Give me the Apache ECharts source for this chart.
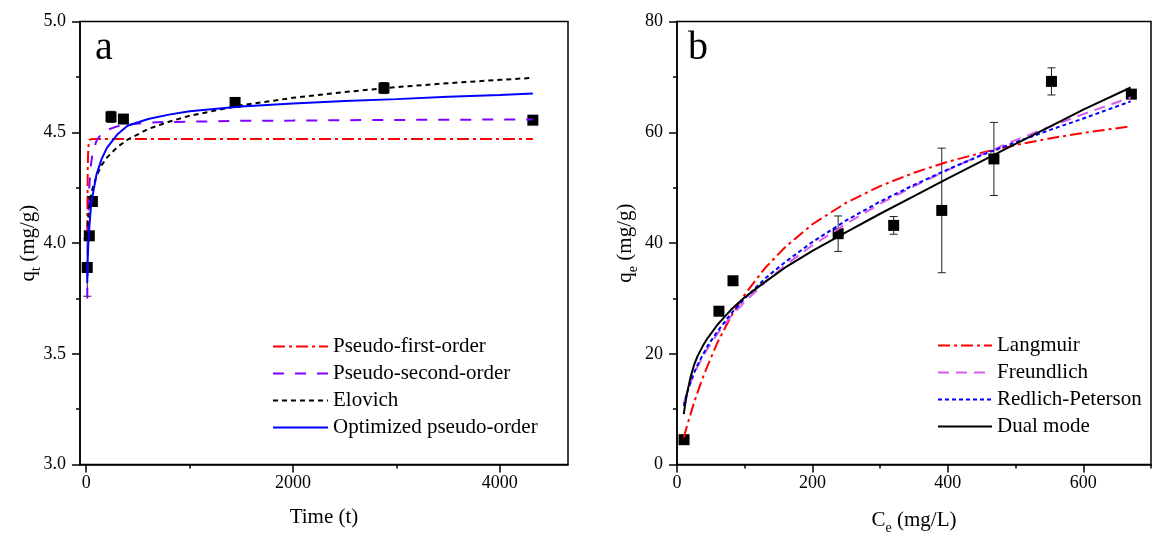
<!DOCTYPE html>
<html>
<head>
<meta charset="utf-8">
<script src="https://cdn.jsdelivr.net/npm/echarts@6/dist/echarts.min.js"></script>
<style>html,body{margin:0;padding:0;background:#fff}#c{width:1158px;height:534px}</style>
</head>
<body>
<div id="c"></div>
<script>
// ---------- Panel a : kinetics ----------
const times = [10, 30, 60, 240, 360, 1440, 2880, 4320];
const qt    = [3.89, 4.033, 4.188, 4.57, 4.56, 4.635, 4.70, 4.555];
const qtErr = [0.13, 0.01, 0.02, 0.025, 0.01, 0.012, 0.025, 0.008];
const tFit  = [10, 15, 20, 30, 45, 60, 100, 150, 200, 300, 400, 600, 800, 1000, 1500, 2000, 2500, 3000, 3500, 4000, 4320];
const pfo   = [4.05, 4.34, 4.43, 4.466, 4.47, 4.47, 4.47, 4.47, 4.47, 4.47, 4.47, 4.47, 4.47, 4.47, 4.47, 4.47, 4.47, 4.47, 4.47, 4.47, 4.47];
const pso   = [3.75, 3.986, 4.115, 4.253, 4.351, 4.401, 4.463, 4.495, 4.511, 4.527, 4.535, 4.544, 4.547, 4.548, 4.552, 4.553, 4.555, 4.556, 4.557, 4.558, 4.558];
const elov  = [4.034, 4.081, 4.115, 4.163, 4.210, 4.244, 4.304, 4.352, 4.386, 4.433, 4.467, 4.515, 4.548, 4.575, 4.622, 4.656, 4.682, 4.704, 4.722, 4.737, 4.746];
const opt   = [3.82, 3.93, 3.99, 4.07, 4.16, 4.21, 4.31, 4.38, 4.43, 4.49, 4.53, 4.56, 4.58, 4.595, 4.617, 4.63, 4.641, 4.65, 4.661, 4.669, 4.675];
const aXTicks = [0, 2000, 4000];
const aXMinor = [1000, 3000];
const aNames = ['Pseudo-first-order', 'Pseudo-second-order', 'Elovich', 'Optimized pseudo-order'];

// ---------- Panel b : isotherms ----------
const ce    = [10.4, 61.9, 82.7, 238, 320, 391, 468, 553, 671];
const qe    = [4.5, 27.7, 33.2, 41.7, 43.2, 45.9, 55.2, 69.2, 66.9];
const qeErr = [0.3, 0.3, 0.3, 3.2, 1.6, 11.25, 6.6, 2.45, 0.4];
const cFit  = [10, 12, 15, 20, 25, 30, 38, 45, 60, 80, 100, 130, 160, 200, 250, 300, 350, 400, 450, 500, 550, 600, 670];
const lang  = [4.9, 5.8, 7.1, 9.1, 11.1, 12.9, 15.7, 17.8, 22.1, 26.8, 30.7, 35.5, 39.3, 43.4, 47.3, 50.3, 52.7, 54.7, 56.3, 57.7, 58.9, 59.9, 61.1];
const freu  = [11.0, 11.9, 13.1, 14.8, 16.3, 17.6, 19.5, 20.9, 23.7, 26.8, 29.4, 32.9, 36.0, 39.6, 43.5, 47.1, 50.3, 53.2, 56.0, 58.6, 61.0, 63.3, 66.3];
const rp    = [10.6, 11.6, 13.0, 14.9, 16.5, 17.9, 19.8, 21.4, 24.1, 27.3, 30.0, 33.6, 36.6, 40.2, 44.1, 47.5, 50.5, 53.3, 55.9, 58.2, 60.4, 62.5, 65.6];
const dual  = [9.1, 10.8, 13.0, 15.8, 17.9, 19.5, 21.4, 22.8, 25.3, 28.0, 30.2, 33.0, 35.6, 38.6, 42.0, 45.3, 48.5, 51.7, 54.8, 57.9, 61.0, 64.1, 68.1];
const bXTicks = [0, 200, 400, 600];
const bXMinor = [100, 300, 500, 700];
const bNames = ['Langmuir', 'Freundlich', 'Redlich-Peterson', 'Dual mode'];

const FONT = 'Liberation Serif';
const BLACK = '#000';

function zip(xs, ys) { return xs.map((x, i) => [x, ys[i]]); }
function errData(xs, ys, es) { return xs.map((x, i) => [x, ys[i], es[i]]); }

function errRender(params, api) {
  const x = api.value(0), y = api.value(1), e = api.value(2);
  const t = api.coord([x, y + e]), b = api.coord([x, y - e]);
  const hw = 4;
  const st = { stroke: '#222', lineWidth: 1 };
  return { type: 'group', children: [
    { type: 'line', shape: { x1: t[0], y1: t[1], x2: b[0], y2: b[1] }, style: st },
    { type: 'line', shape: { x1: t[0] - hw, y1: t[1], x2: t[0] + hw, y2: t[1] }, style: st },
    { type: 'line', shape: { x1: b[0] - hw, y1: b[1], x2: b[0] + hw, y2: b[1] }, style: st }
  ]};
}

const axisLine = { show: true, onZero: false, lineStyle: { color: BLACK, width: 1.5 } };
const labelStyle = { color: BLACK, fontFamily: FONT, fontSize: 18 };
const nameStyle = { color: BLACK, fontFamily: FONT, fontSize: 21,
  rich: { sub: { fontSize: 14, fontFamily: FONT, color: BLACK, verticalAlign: 'bottom', lineHeight: 16 },
          n: { fontSize: 21, fontFamily: FONT, color: BLACK, lineHeight: 30 } } };

function mainX(grid, min, max, ticks, name, gap) {
  return { gridIndex: grid, type: 'value', min: min, max: max, position: 'bottom',
    axisLine: axisLine, splitLine: { show: false },
    axisTick: { show: true, inside: false, length: 8, customValues: ticks, lineStyle: { color: BLACK, width: 1.5 } },
    axisLabel: { customValues: ticks, margin: 10, formatter: v => String(v), ...labelStyle },
    name: name, nameLocation: 'middle', nameGap: gap, nameMoveOverlap: false, nameTextStyle: nameStyle };
}
function minorX(grid, min, max, ticks) {
  return { gridIndex: grid, type: 'value', min: min, max: max, position: 'bottom',
    axisLine: { show: false, onZero: false }, splitLine: { show: false }, axisLabel: { show: false, customValues: ticks },
    axisTick: { show: true, inside: false, length: 4, customValues: ticks, lineStyle: { color: BLACK, width: 1.5 } } };
}
function mainY(grid, min, max, interval, fmt, name, gap) {
  return { gridIndex: grid, type: 'value', min: min, max: max, interval: interval,
    axisLine: axisLine, splitLine: { show: false },
    axisTick: { show: true, inside: false, length: 8, lineStyle: { color: BLACK, width: 1.5 } },
    minorTick: { show: true, splitNumber: 2, length: 4, lineStyle: { color: BLACK, width: 1.5 } },
    axisLabel: { margin: 14, formatter: fmt, ...labelStyle },
    name: name, nameLocation: 'middle', nameGap: gap, nameMoveOverlap: false, nameRotate: 90, nameTextStyle: nameStyle };
}
function line(name, xi, yi, xs, ys, color, dash) {
  return { name: name, type: 'line', xAxisIndex: xi, yAxisIndex: yi, data: zip(xs, ys),
    symbol: 'none', showSymbol: false, smooth: false, z: 4,
    lineStyle: { color: color, width: 2, type: dash }, itemStyle: { color: color } };
}
const legendBase = { orient: 'vertical', itemHeight: 14, itemGap: 6, selectedMode: false,
  itemStyle: { opacity: 0 }, textStyle: { fontFamily: FONT, fontSize: 21, color: BLACK } };

const chart = echarts.init(document.getElementById('c'), null, { renderer: 'canvas' });
chart.setOption({
  backgroundColor: '#fff',
  animation: false,
  title: [
    { text: 'a', left: 90, top: 23, textStyle: { fontFamily: FONT, fontSize: 40, fontWeight: 'normal', color: BLACK } },
    { text: 'b', left: 683, top: 23, textStyle: { fontFamily: FONT, fontSize: 40, fontWeight: 'normal', color: BLACK } }
  ],
  grid: [
    { left: 80, top: 21.6, width: 488, height: 443, outerBoundsMode: 'none', containLabel: false,
      show: true, borderColor: BLACK, borderWidth: 1.5, backgroundColor: 'transparent' },
    { left: 677, top: 21.6, width: 474, height: 443, outerBoundsMode: 'none', containLabel: false,
      show: true, borderColor: BLACK, borderWidth: 1.5, backgroundColor: 'transparent' }
  ],
  xAxis: [
    mainX(0, -60, 4660, aXTicks, 'Time (t)', 42),
    minorX(0, -60, 4660, aXMinor),
    mainX(1, 0, 700, bXTicks, '{n|C}{sub|e}{n| (mg/L)}', 41),
    minorX(1, 0, 700, bXMinor)
  ],
  yAxis: [
    mainY(0, 3, 5, 0.5, v => v.toFixed(1), '{n|q}{sub|t}{n| (mg/g)}', 37),
    mainY(1, 0, 80, 20, v => String(v), '{n|q}{sub|e}{n| (mg/g)}', 37)
  ],
  legend: [
    Object.assign({ data: aNames, left: 267, top: 331, itemWidth: 55 }, legendBase),
    Object.assign({ data: bNames, left: 932, top: 330, itemWidth: 54 }, legendBase)
  ],
  series: [
    { type: 'custom', xAxisIndex: 0, yAxisIndex: 0, renderItem: errRender, data: errData(times, qt, qtErr), z: 2, encode: { x: 0, y: 1 } },
    { type: 'scatter', xAxisIndex: 0, yAxisIndex: 0, data: zip(times, qt), symbol: 'rect', symbolSize: 11, itemStyle: { color: BLACK, opacity: 1 }, z: 3 },
    line(aNames[0], 0, 0, tFit, pfo, '#FF0000', [12, 4, 3, 4]),
    line(aNames[1], 0, 0, tFit, pso, '#8000FF', [11, 11]),
    line(aNames[2], 0, 0, tFit, elov, '#000000', [5, 4]),
    line(aNames[3], 0, 0, tFit, opt, '#0000FF', 'solid'),

    { type: 'custom', xAxisIndex: 2, yAxisIndex: 1, renderItem: errRender, data: errData(ce, qe, qeErr), z: 2, encode: { x: 0, y: 1 } },
    { type: 'scatter', xAxisIndex: 2, yAxisIndex: 1, data: zip(ce, qe), symbol: 'rect', symbolSize: 11, itemStyle: { color: BLACK, opacity: 1 }, z: 3 },
    line(bNames[0], 2, 1, cFit, lang, '#FF0000', [12, 4, 3, 4]),
    line(bNames[1], 2, 1, cFit, freu, '#D65CF0', [11, 7]),
    line(bNames[2], 2, 1, cFit, rp, '#0000FF', [4, 3]),
    line(bNames[3], 2, 1, cFit, dual, '#000000', 'solid')
  ]
});
</script>
</body>
</html>
